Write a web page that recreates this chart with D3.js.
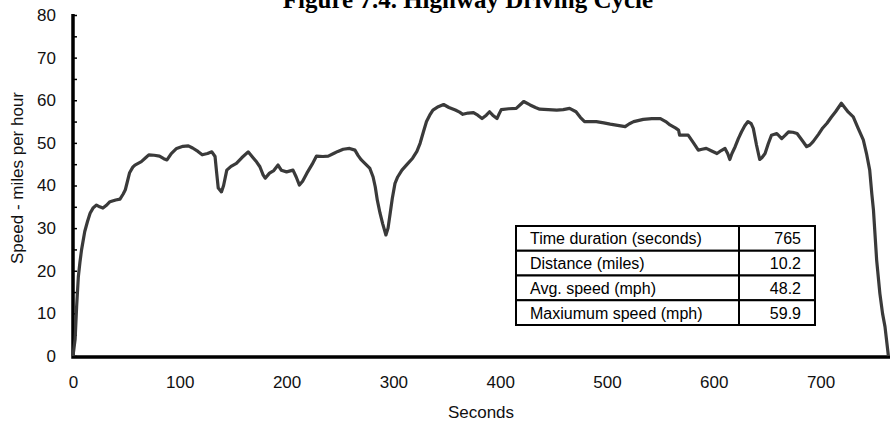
<!DOCTYPE html>
<html>
<head>
<meta charset="utf-8">
<script src="https://cdn.jsdelivr.net/npm/d3@7"></script>
<style>
	body { margin: 0; background: #fff; }
	.axis text { font-family: "Liberation Sans", Arial, sans-serif; font-size: 17px; fill: #111; }
	.title { font-family: "Liberation Serif", "Times New Roman", serif; font-weight: bold; font-size: 25px; }
	.label { font-family: "Liberation Sans", Arial, sans-serif; font-size: 17px; fill: #111; }
	.cell { font-family: "Liberation Sans", Arial, sans-serif; font-size: 16px; fill: #000; }
</style>
</head>
<body>
<script>
// speed trace
var seconds = [0, 1, 2, 3.4, 5, 6.5, 8, 11, 13.5, 16, 19, 22, 25, 28, 31, 34.6, 40, 44, 47, 49, 51, 53, 56, 58, 64, 68, 71, 76, 81, 85, 88, 92, 97, 103, 108, 112, 117, 121, 126, 130, 133, 134.5, 136, 139, 141, 144, 148, 153, 158, 164, 169, 172, 175, 178, 180, 184, 188, 192, 195, 200, 206, 209, 212, 215, 219, 224, 228, 234, 239, 244, 248, 253, 259, 264, 267, 270, 274, 278, 281, 283, 285, 287.5, 290, 293, 295, 297, 299, 301.5, 304, 308, 313, 318, 322, 325, 328, 331, 334, 337, 342, 347, 352, 358, 362, 365, 370, 375, 379, 383, 387, 390, 393, 397, 399, 401, 408, 415, 419, 422, 428, 433, 437, 445, 453, 459, 465, 471, 475, 479, 485, 490, 497, 503, 510, 517, 521, 525, 534, 542, 550, 555, 559, 564, 567, 568, 572, 576, 581, 585.5, 589, 593, 598, 603, 607, 610.5, 613, 615, 617, 620, 623, 626, 629, 632, 635, 637, 640, 643, 645, 648, 651, 654, 659, 663.6, 667, 670, 674, 678, 683, 687, 690, 693, 698, 702, 706, 710, 714, 719.5, 722, 726, 730.6, 735, 740, 743, 746, 748, 749.5, 752.5, 755.5, 758, 760.3, 763.5];
var speed = [0, 2, 4, 11.6, 18.6, 22, 24.9, 29.2, 31.5, 33.5, 34.8, 35.4, 35, 34.7, 35.3, 36.2, 36.6, 36.8, 38, 39, 41, 43, 44.3, 44.8, 45.6, 46.5, 47.2, 47.1, 46.9, 46.3, 46, 47.5, 48.7, 49.2, 49.3, 48.8, 48, 47.2, 47.5, 47.9, 46.8, 43, 39.4, 38.5, 40, 43.6, 44.5, 45.2, 46.5, 47.9, 46.4, 45.5, 44.4, 42.5, 41.7, 42.9, 43.5, 44.8, 43.6, 43.2, 43.6, 42, 40.1, 41, 42.9, 45, 46.9, 46.8, 46.9, 47.5, 48, 48.5, 48.7, 48.3, 47, 46, 45, 44, 42, 39.7, 36.5, 33.5, 31, 28.4, 30, 33.5, 37, 40.5, 42, 43.6, 45, 46.4, 48, 49.9, 52.5, 55, 56.5, 57.7, 58.5, 59, 58.3, 57.7, 57.2, 56.7, 57, 57.1, 56.5, 55.7, 56.5, 57.3, 56.5, 55.7, 56.8, 57.8, 58, 58.1, 59, 59.7, 58.9, 58.3, 57.9, 57.8, 57.7, 57.8, 58.1, 57.3, 56, 55, 55, 55, 54.7, 54.4, 54.1, 53.8, 54.5, 55, 55.5, 55.7, 55.7, 55, 54.2, 53.5, 53, 51.8, 51.8, 51.8, 50, 48.3, 48.5, 48.7, 48.1, 47.5, 48.2, 48.7, 47.5, 46.1, 47.5, 49.1, 51, 52.6, 54, 55, 54.5, 53.4, 49.5, 46.1, 46.5, 47.5, 49.8, 51.8, 52.2, 51, 51.8, 52.6, 52.5, 52.2, 50.5, 49.1, 49.5, 50.3, 52, 53.5, 54.6, 56, 57.3, 59.3, 58.5, 57.2, 56.1, 53.5, 50.7, 47.5, 43.6, 38, 34.3, 22.5, 14.7, 10, 6.9, 0];

// axis ticks
var xTicks = [0, 100, 200, 300, 400, 500, 600, 700];
var yTicks = [0, 10, 20, 30, 40, 50, 60, 70, 80];
var yMinorTicks = [0, 5, 10, 15, 20, 25, 30, 35, 40, 45, 50, 55, 60, 65, 70, 75, 80];

// summary table
var tableLabels = ["Time duration (seconds)", "Distance (miles)", "Avg. speed (mph)", "Maxiumum speed (mph)"];
var tableValues = ["765", "10.2", "48.2", "59.9"];

window.onload = setChart();

function setChart(){

	var width = 891,
	height = 421;

	var svg = d3.select("body")
		.append("svg")
		.attr("width", width)
		.attr("height", height);

	// scales
	var x = d3.scaleLinear()
		.domain([0, 765])
		.range([73, 890]);

	var y = d3.scaleLinear()
		.domain([0, 80])
		.range([356, 15]);

	// title, cut off at the top like the scan
	svg.append("text")
		.attr("class", "title")
		.attr("x", 468)
		.attr("y", 8)
		.attr("text-anchor", "middle")
		.text("Figure 7.4.  Highway Driving Cycle");

	// minor ticks on the inside of the y axis
	svg.append("g")
		.attr("class", "axis")
		.attr("transform", "translate(73,0)")
		.call(d3.axisLeft(y).tickValues(yMinorTicks).tickSize(-4).tickFormat(""))
		.call(function(g){ g.select(".domain").remove(); })
		.selectAll("line").attr("stroke", "#000").attr("stroke-width", 1.5);

	// y axis labels
	var yAxis = svg.append("g")
		.attr("class", "axis")
		.attr("transform", "translate(73,0)")
		.call(d3.axisLeft(y).tickValues(yTicks).tickSize(0).tickPadding(17));
	yAxis.select(".domain").remove();

	// x axis labels
	var xAxis = svg.append("g")
		.attr("class", "axis")
		.attr("transform", "translate(0,357)")
		.call(d3.axisBottom(x).tickValues(xTicks).tickSize(0).tickPadding(19));
	xAxis.select(".domain").remove();

	// heavy axis lines
	svg.append("path")
		.attr("d", "M" + x(0) + "," + (y(80) - 1) + "V" + (y(0) + 1) + "H" + x(765))
		.attr("fill", "none")
		.attr("stroke", "#000")
		.attr("stroke-width", 3.5);

	// axis titles
	svg.append("text")
		.attr("class", "label")
		.attr("x", 481)
		.attr("y", 418)
		.attr("text-anchor", "middle")
		.text("Seconds");

	svg.append("text")
		.attr("class", "label")
		.attr("transform", "translate(23,178) rotate(-90)")
		.attr("text-anchor", "middle")
		.text("Speed - miles per hour");

	// speed line
	var line = d3.line()
		.x(function(d, i){ return x(seconds[i]); })
		.y(function(d){ return y(d); });

	svg.append("path")
		.datum(speed)
		.attr("d", line)
		.attr("fill", "none")
		.attr("stroke", "#3a3a3a")
		.attr("stroke-width", 3.2)
		.attr("stroke-linejoin", "round");

	// summary table
	var tLeft = 516, tRight = 815, tDiv = 739, tTop = 226, rowH = 24.75;

	var rows = svg.selectAll(".row")
		.data(tableLabels)
		.enter()
		.append("g")
		.attr("class", "row")
		.attr("transform", function(d, i){ return "translate(0," + (tTop + i * rowH) + ")"; });

	rows.append("rect")
		.attr("x", tLeft)
		.attr("width", tRight - tLeft)
		.attr("height", rowH)
		.attr("fill", "#fff")
		.attr("stroke", "#000")
		.attr("stroke-width", 2);

	rows.append("text")
		.attr("class", "cell")
		.attr("x", tLeft + 14)
		.attr("y", rowH / 2 + 6)
		.text(function(d){ return d; });

	rows.append("text")
		.attr("class", "cell")
		.attr("x", tRight - 14)
		.attr("y", rowH / 2 + 6)
		.attr("text-anchor", "end")
		.text(function(d, i){ return tableValues[i]; });

	svg.append("line")
		.attr("x1", tDiv).attr("x2", tDiv)
		.attr("y1", tTop).attr("y2", tTop + rowH * tableLabels.length)
		.attr("stroke", "#000")
		.attr("stroke-width", 2);
};
</script>
</body>
</html>
